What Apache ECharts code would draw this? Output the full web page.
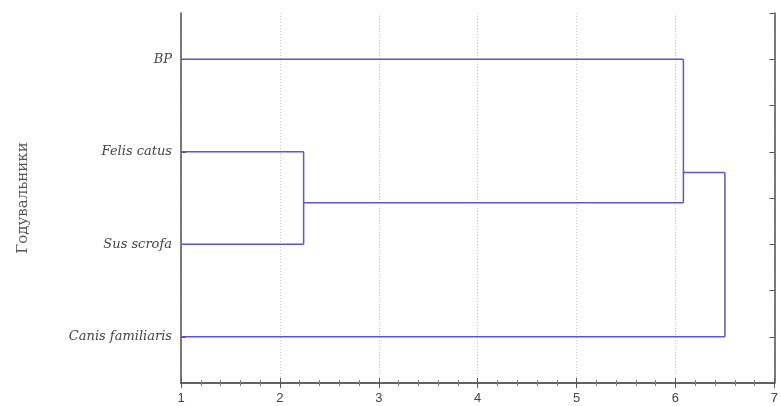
<!DOCTYPE html>
<html><head><meta charset="utf-8">
<script src="https://cdn.jsdelivr.net/npm/echarts@6/dist/echarts.min.js"></script>
<style>html,body{margin:0;padding:0;background:#fff}#c{width:781px;height:406px}</style>
</head><body><div id="c"></div>
<script>
// Leaves (bottom to top) and their axis positions
const leaves = ['Canis familiaris', 'Sus scrofa', 'Felis catus', 'BP'];
const leafPos = [1, 3, 5, 7];
// Linkage distances of the merges
const mergeDist = [2.24, 6.08, 6.50];
// Child members of each merge: leaf index (number) or merge id ('m0', 'm1')
const mergeA = [2, 3, 'm1'];
const mergeB = [1, 'm0', 0];
// Vertical position of each merge's outgoing branch (as drawn)
const mergeY = [3.9, 4.55, null];
const xTicks = [1, 2, 3, 4, 5, 6, 7];
const yTitle = 'Годувальники';

const color = '#5f55cc';
const segs = [];
function childInfo(c) {
  if (typeof c === 'number') return { y: leafPos[c], x: 1 };
  const i = +c.slice(1);
  return { y: mergeY[i], x: mergeDist[i] };
}
mergeDist.forEach((d, i) => {
  const a = childInfo(mergeA[i]), b = childInfo(mergeB[i]);
  segs.push([[a.x, a.y], [d, a.y]]);
  segs.push([[b.x, b.y], [d, b.y]]);
  segs.push([[d, a.y], [d, b.y]]);
});
const series = segs.map(s => ({
  type: 'line', data: s, symbol: 'none', silent: true,
  lineStyle: { color: color, width: 1.5 }, xAxisIndex: 0, yAxisIndex: 0
}));

const frame = { show: true, lineStyle: { color: '#5a5a5a', width: 1.6 } };
const chart = echarts.init(document.getElementById('c'));
chart.setOption({
  animation: false,
  grid: { left: 181, right: 5, top: 13, bottom: 23, containLabel: false },
  xAxis: [{
    type: 'value', min: 1, max: 7, interval: 1, position: 'bottom',
    axisLine: frame,
    axisTick: { inside: true, length: 5, lineStyle: { color: '#555' } },
    minorTick: { show: true, splitNumber: 5, length: 3, lineStyle: { color: '#777' } },
    axisLabel: { color: '#444', fontFamily: 'Liberation Sans', fontSize: 13, margin: 9,
      customValues: xTicks },
    splitLine: { show: true, lineStyle: { color: '#c8c8d0', type: [1, 2], width: 1 } }
  }, {
    type: 'value', min: 1, max: 7, interval: 1, position: 'top',
    axisLine: frame,
    axisTick: { inside: true, length: 5, lineStyle: { color: '#555' } },
    minorTick: { show: true, splitNumber: 5, length: 3, lineStyle: { color: '#777' } },
    axisLabel: { show: false }, splitLine: { show: false }
  }],
  yAxis: [{
    type: 'value', min: 0, max: 8, interval: 1, position: 'left',
    name: yTitle, nameLocation: 'middle', nameGap: 150, nameRotate: 90,
    nameTextStyle: { color: '#555', fontFamily: 'DejaVu Serif', fontSize: 15 },
    axisLine: frame,
    axisTick: { inside: true, length: 5, lineStyle: { color: '#555' }, customValues: leafPos },
    axisLabel: { color: '#444', fontFamily: 'DejaVu Serif', fontStyle: 'italic', fontSize: 13,
      margin: 9, customValues: leafPos,
      formatter: v => { const i = leafPos.indexOf(v); return i >= 0 ? leaves[i] : ''; } },
    splitLine: { show: false }
  }, {
    type: 'value', min: 0, max: 8, interval: 1, position: 'right',
    axisLine: frame,
    axisTick: { inside: true, length: 5, lineStyle: { color: '#555' } },
    axisLabel: { show: false }, splitLine: { show: false }
  }],
  series: series
});
</script></body></html>
